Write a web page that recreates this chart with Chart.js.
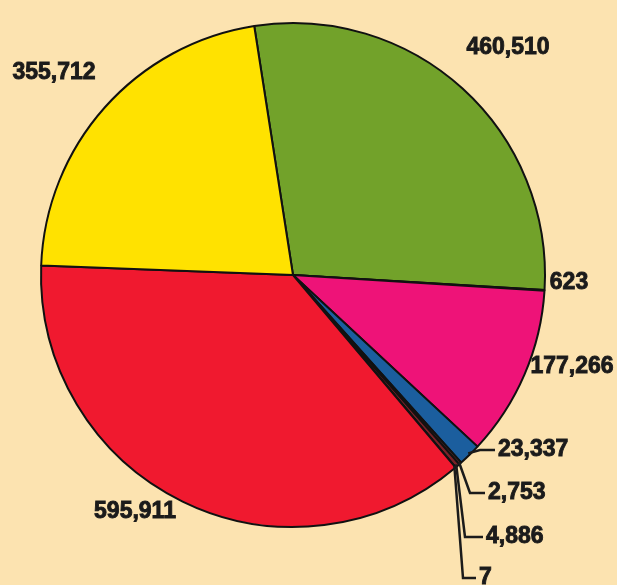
<!DOCTYPE html>
<html lang="en">
<head>
    <meta charset="UTF-8">
    <title>Pie chart</title>
    <script src="https://cdn.jsdelivr.net/npm/chart.js"></script>
    <style>
        * { margin: 0; padding: 0; box-sizing: border-box; }
        body { background-color: #fce3b0; }
        .chart-box { width: 617px; height: 585px; position: relative; }
    </style>
</head>
<body>
    <div class="chart-box">
        <canvas id="pieChart"></canvas>
    </div>

    <script>
        // Slice values, clockwise from the top
        const labels = ['460,510', '623', '177,266', '23,337', '2,753', '4,886', '7', '595,911', '355,712'];
        const values = [460510, 623, 177266, 23337, 2753, 4886, 7, 595911, 355712];
        const colors = ['#72a22a', '#3a3a20', '#ee1378', '#1b5e9e', '#5e2a28', '#7a2228', '#402020', '#f0192f', '#ffe200'];

        // Where each value label sits (text anchor); leader = elbow line back to the slice
        const labelSpots = [
            { x: 508, y: 48, align: 'center' },
            { x: 569, y: 283, align: 'center' },
            { x: 572, y: 367, align: 'center' },
            { x: 498, y: 450, align: 'left', elbowX: 480 },
            { x: 488, y: 493, align: 'left', elbowX: 470 },
            { x: 486, y: 537, align: 'left', elbowX: 465 },
            { x: 479, y: 578, align: 'left', elbowX: 463 },
            { x: 135, y: 512, align: 'center' },
            { x: 54, y: 73, align: 'center' }
        ];

        const backgroundPlugin = {
            id: 'bg',
            beforeDraw(chart) {
                const ctx = chart.ctx;
                ctx.save();
                ctx.fillStyle = '#fce3b0';
                ctx.fillRect(0, 0, chart.width, chart.height);
                ctx.restore();
            }
        };

        const valueLabels = {
            id: 'valueLabels',
            afterDatasetsDraw(chart) {
                const ctx = chart.ctx;
                const arcs = chart.getDatasetMeta(0).data;
                ctx.save();
                ctx.font = 'bold 23px "Liberation Sans", Arial, sans-serif';
                ctx.fillStyle = '#1b1b1b';
                ctx.strokeStyle = '#1b1b1b';
                ctx.textBaseline = 'middle';
                arcs.forEach((arc, i) => {
                    const spot = labelSpots[i];
                    if (spot.elbowX !== undefined) {
                        const p = arc.getProps(['x', 'y', 'startAngle', 'endAngle', 'outerRadius'], true);
                        const mid = (p.startAngle + p.endAngle) / 2;
                        const sx = p.x + Math.cos(mid) * (p.outerRadius - 2);
                        const sy = p.y + Math.sin(mid) * (p.outerRadius - 2);
                        ctx.lineWidth = 2.5;
                        ctx.beginPath();
                        ctx.moveTo(sx, sy);
                        ctx.lineTo(spot.elbowX, spot.y);
                        ctx.lineTo(spot.x - 3, spot.y);
                        ctx.stroke();
                    }
                    ctx.textAlign = spot.align;
                    ctx.lineWidth = 0.9;
                    ctx.fillText(labels[i], spot.x, spot.y);
                    ctx.strokeText(labels[i], spot.x, spot.y);
                });
                ctx.restore();
            }
        };

        new Chart(document.getElementById('pieChart'), {
            type: 'pie',
            data: {
                labels: labels,
                datasets: [{
                    data: values,
                    backgroundColor: colors,
                    borderColor: '#111111',
                    borderWidth: 2
                }]
            },
            options: {
                responsive: true,
                maintainAspectRatio: false,
                animation: false,
                rotation: -8.85,
                layout: {
                    padding: { left: 40, right: 71, top: 22, bottom: 57 }
                },
                plugins: {
                    legend: { display: false },
                    tooltip: { enabled: false }
                }
            },
            plugins: [backgroundPlugin, valueLabels]
        });
    </script>
</body>
</html>
